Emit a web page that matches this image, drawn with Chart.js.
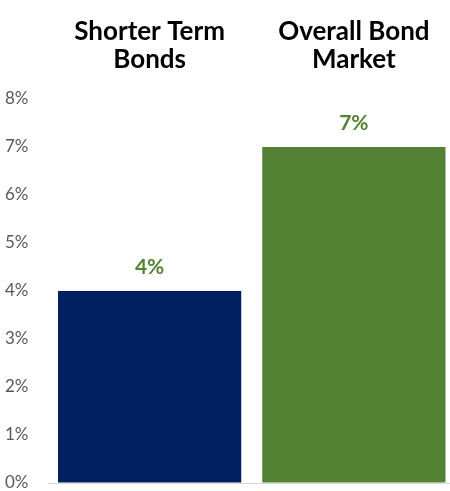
<!DOCTYPE html>
<html>
<head>
<meta charset="utf-8">
<script src="https://cdn.jsdelivr.net/npm/chart.js@4.4.1/dist/chart.umd.min.js"></script>
<style>
  html, body { margin: 0; padding: 0; background: #fff; overflow: hidden; }
  #wrap { width: 456px; height: 491px; position: relative; }
</style>
</head>
<body>
<div id="wrap"><canvas id="bondChart"></canvas></div>
<script>
// chart data
const categories = [['Shorter Term', 'Bonds'], ['Overall Bond', 'Market']];
const values = [4, 7];
const barColors = ['#002060', '#548235'];
const yTicks = [0, 1, 2, 3, 4, 5, 6, 7, 8];

const FONT = 'Lato, "Open Sans", sans-serif';

// draws the green % labels above each bar
const valueLabels = {
    id: 'valueLabels',
    afterDatasetsDraw(chart) {
        const ctx = chart.ctx;
        const meta = chart.getDatasetMeta(0);
        ctx.save();
        ctx.font = 'bold 21px ' + FONT;
        ctx.fillStyle = '#548235';
        ctx.textAlign = 'center';
        ctx.textBaseline = 'middle';
        meta.data.forEach((bar, i) => {
            ctx.fillText(values[i] + '%', bar.x, bar.y - 24);
        });
        ctx.restore();
    }
};

const canvas = document.getElementById('bondChart');
const ctx = canvas.getContext('2d');

window.bondChart = new Chart(ctx, {
    type: 'bar',
    data: {
        labels: categories,
        datasets: [{
            data: values,
            backgroundColor: barColors,
            borderWidth: 0,
            barPercentage: 0.897,
            categoryPercentage: 1.0
        }]
    },
    options: {
        responsive: true,
        maintainAspectRatio: false,
        animation: false,
        layout: {
            padding: { left: 5, right: 0, top: 0, bottom: 8 }
        },
        plugins: {
            legend: { display: false },
            tooltip: { enabled: false }
        },
        scales: {
            x: {
                position: 'top',
                grid: { display: false, drawTicks: false },
                border: { display: false },
                ticks: {
                    color: '#000',
                    padding: 26,
                    maxRotation: 0,
                    font: { family: FONT, size: 26, weight: 'bold', lineHeight: 1.05 }
                },
                afterFit(scale) { scale.height = 99; }
            },
            y: {
                min: 0,
                max: 8,
                afterBuildTicks(scale) {
                    scale.ticks = yTicks.map(v => ({ value: v }));
                },
                grid: {
                    drawTicks: false,
                    color: c => c.tick && c.tick.value === 0 ? '#d9d9d9' : 'transparent'
                },
                border: { display: false },
                ticks: {
                    color: '#595959',
                    crossAlign: 'far',
                    padding: 8,
                    font: { family: FONT, size: 17 },
                    callback: v => v + '%'
                },
                afterFit(scale) {
                    scale.width = 42.5;
                    scale.paddingTop = 0;
                    scale.paddingBottom = 0;
                }
            }
        }
    },
    plugins: [valueLabels]
});
</script>
</body>
</html>
